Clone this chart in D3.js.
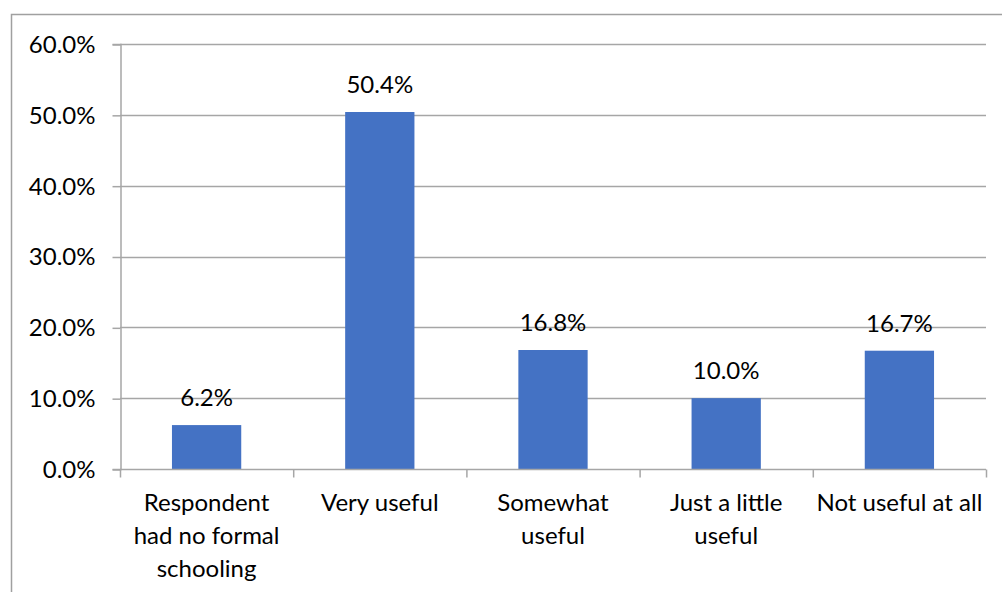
<!DOCTYPE html>
<html>
<head>
<meta charset="utf-8">
<script src="https://cdn.jsdelivr.net/npm/d3@7/dist/d3.min.js"></script>
<style>
  html, body { margin: 0; padding: 0; background: #fff; }
  svg { display: block; }
  text { font-family: Lato, "Open Sans", sans-serif; fill: #000; }
</style>
</head>
<body>
<svg id="chart" width="1002" height="592"></svg>
<script>
const categories = [
  ["Respondent", "had no formal", "schooling"],
  ["Very useful"],
  ["Somewhat", "useful"],
  ["Just a little", "useful"],
  ["Not useful at all"]
];
const categoryKeys = ["Respondent had no formal schooling", "Very useful", "Somewhat useful", "Just a little useful", "Not useful at all"];
const values = [6.2, 50.4, 16.8, 10.0, 16.7];
const yTicks = [0, 10, 20, 30, 40, 50, 60];

const svg = d3.select("#chart");
const margin = { left: 120, right: 1002 - 986, top: 44, bottom: 592 - 469 };
const W = 1002, H = 592;
const gridColor = "#a6a6a6";
const barColor = "#4472C4";
const fontSize = 24;

// outer frame
svg.append("rect")
  .attr("x", 11.5).attr("y", 14.5)
  .attr("width", W).attr("height", H)
  .attr("fill", "none").attr("stroke", "#a0a0a0").attr("stroke-width", 1.5);

const x = d3.scaleBand()
  .domain(categoryKeys)
  .range([margin.left, W - margin.right])
  .paddingInner(0.6).paddingOuter(0.3);

const y = d3.scaleLinear()
  .domain([0, 60])
  .range([H - margin.bottom, margin.top]);

// gridlines
svg.append("g")
  .selectAll("line")
  .data(yTicks.filter(d => d > 0))
  .join("line")
  .attr("x1", margin.left).attr("x2", W - margin.right)
  .attr("y1", d => Math.round(y(d)) + 0.5).attr("y2", d => Math.round(y(d)) + 0.5)
  .attr("stroke", gridColor).attr("stroke-width", 1.5);

// y axis
const yAxis = d3.axisLeft(y)
  .tickValues(yTicks)
  .tickSize(8)
  .tickPadding(17)
  .tickFormat(d => d3.format(".1f")(d) + "%");
const yG = svg.append("g")
  .attr("transform", `translate(${margin.left + 0.5},0)`)
  .call(yAxis);
yG.select(".domain").attr("stroke", gridColor).attr("stroke-width", 1.5);
yG.selectAll(".tick line").attr("stroke", gridColor).attr("stroke-width", 1.5)
  .attr("transform", "translate(0,0.5)");
yG.selectAll(".tick text")
  .attr("font-size", fontSize)
  .attr("font-family", "Lato, 'Open Sans', sans-serif")
  .attr("fill", "#000")
  .attr("dy", "0.35em");

// bars
svg.append("g")
  .selectAll("rect")
  .data(values)
  .join("rect")
  .attr("x", (d, i) => x(categoryKeys[i]))
  .attr("y", d => y(d))
  .attr("width", x.bandwidth())
  .attr("height", d => y(0) - y(d))
  .attr("fill", barColor);

// x axis (category boundaries as ticks)
const x0 = margin.left, step = x.step();
const xBase = Math.round(y(0)) + 0.5;
svg.append("line")
  .attr("x1", x0).attr("x2", W - margin.right)
  .attr("y1", xBase).attr("y2", xBase)
  .attr("stroke", gridColor).attr("stroke-width", 1.5);
svg.append("g")
  .selectAll("line")
  .data(d3.range(categoryKeys.length + 1))
  .join("line")
  .attr("x1", i => x0 + i * step + 0.5).attr("x2", i => x0 + i * step + 0.5)
  .attr("y1", xBase).attr("y2", xBase + 8)
  .attr("stroke", gridColor).attr("stroke-width", 1.5);

// value labels
svg.append("g")
  .selectAll("text")
  .data(values)
  .join("text")
  .attr("x", (d, i) => x(categoryKeys[i]) + x.bandwidth() / 2)
  .attr("y", d => y(d) - 19)
  .attr("text-anchor", "middle")
  .attr("font-size", fontSize)
  .text(d => d3.format(".1f")(d) + "%");

// category labels
const catG = svg.append("g");
categories.forEach((lines, i) => {
  const cx = x(categoryKeys[i]) + x.bandwidth() / 2;
  const t = catG.append("text")
    .attr("text-anchor", "middle")
    .attr("font-size", fontSize);
  lines.forEach((ln, j) => {
    t.append("tspan").attr("x", cx).attr("y", 511 + j * 33).text(ln);
  });
});
</script>
</body>
</html>
